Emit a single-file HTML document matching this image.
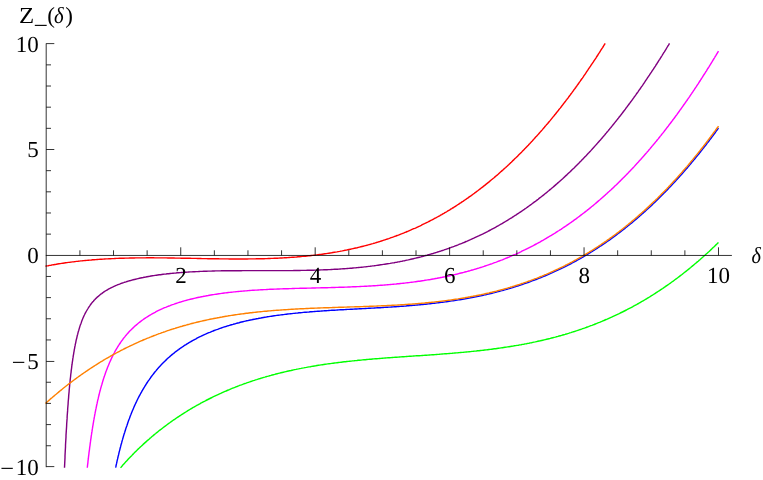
<!DOCTYPE html>
<html><head><meta charset="utf-8"><title>Z_(delta)</title>
<style>html,body{margin:0;padding:0;background:#fff}svg{display:block}text{font-family:"Liberation Serif",serif;font-size:23px;fill:#000}</style></head>
<body><svg width="763" height="480" viewBox="0 0 763 480">
<rect width="763" height="480" fill="#fff"/>
<g fill="none" stroke-width="1.42" stroke-linejoin="round" stroke-linecap="butt">
<path d="M115.6 467.7 L115.9 466.5 L116.2 464.9 L116.6 463.4 L116.9 461.9 L117.2 460.4 L117.6 458.9 L117.9 457.5 L118.2 456.1 L118.6 454.7 L118.9 453.3 L119.2 451.9 L119.6 450.6 L119.9 449.3 L120.2 448.0 L120.6 446.7 L120.9 445.4 L121.2 444.2 L121.6 443.0 L121.9 441.7 L122.2 440.6 L122.6 439.4 L123.0 437.9 L123.4 436.5 L123.8 435.1 L124.2 433.7 L124.7 432.4 L125.1 431.0 L125.5 429.7 L125.9 428.4 L126.3 427.2 L126.8 425.9 L127.2 424.7 L127.6 423.5 L128.0 422.3 L128.4 421.1 L128.8 420.0 L129.3 418.8 L129.7 417.7 L130.1 416.6 L130.5 415.5 L131.0 414.3 L131.5 413.0 L132.0 411.8 L132.5 410.6 L133.0 409.4 L133.5 408.2 L134.0 407.0 L134.5 405.9 L135.0 404.8 L135.5 403.7 L136.0 402.6 L136.5 401.6 L137.0 400.5 L137.5 399.5 L138.0 398.5 L138.6 397.3 L139.2 396.2 L139.8 395.1 L140.4 394.0 L141.0 392.9 L141.6 391.9 L142.1 390.8 L142.7 389.8 L143.3 388.8 L143.9 387.8 L144.5 386.9 L145.1 385.9 L145.7 385.0 L146.2 384.1 L146.9 383.0 L147.6 382.0 L148.2 381.0 L148.9 380.1 L149.6 379.1 L150.3 378.2 L150.9 377.2 L151.6 376.3 L152.3 375.4 L152.9 374.6 L153.6 373.7 L154.3 372.8 L154.9 372.0 L155.7 371.1 L156.4 370.2 L157.2 369.3 L157.9 368.4 L158.7 367.6 L159.4 366.7 L160.2 365.9 L161.0 365.1 L161.7 364.3 L162.5 363.5 L163.2 362.8 L164.0 362.0 L164.8 361.2 L165.6 360.4 L166.5 359.6 L167.3 358.8 L168.1 358.0 L169.0 357.3 L169.8 356.6 L170.7 355.8 L171.5 355.1 L172.3 354.4 L173.2 353.7 L174.0 353.1 L174.9 352.3 L175.8 351.6 L176.8 350.9 L177.7 350.2 L178.6 349.6 L179.5 348.9 L180.4 348.2 L181.4 347.6 L182.3 347.0 L183.2 346.4 L184.1 345.7 L185.0 345.1 L186.0 344.6 L187.0 343.9 L188.0 343.3 L189.0 342.7 L190.0 342.1 L191.0 341.5 L192.0 341.0 L193.0 340.4 L194.0 339.8 L195.0 339.3 L196.0 338.8 L197.0 338.2 L198.0 337.7 L199.0 337.2 L200.1 336.7 L201.2 336.2 L202.3 335.6 L203.3 335.1 L204.4 334.6 L205.5 334.2 L206.6 333.7 L207.7 333.2 L208.8 332.7 L209.9 332.3 L211.0 331.8 L212.0 331.4 L213.1 331.0 L214.2 330.5 L215.3 330.1 L216.5 329.7 L217.6 329.3 L218.8 328.8 L220.0 328.4 L221.2 328.0 L222.3 327.6 L223.5 327.2 L224.7 326.8 L225.8 326.5 L227.0 326.1 L228.2 325.7 L229.4 325.4 L230.5 325.0 L231.7 324.7 L232.9 324.4 L234.1 324.0 L235.4 323.7 L236.6 323.3 L237.9 323.0 L239.1 322.7 L240.4 322.3 L241.6 322.0 L242.9 321.7 L244.2 321.4 L245.4 321.1 L246.7 320.8 L247.9 320.6 L249.2 320.3 L250.4 320.0 L251.7 319.8 L252.9 319.5 L254.2 319.2 L255.4 319.0 L256.8 318.7 L258.1 318.5 L259.5 318.2 L260.8 318.0 L262.1 317.7 L263.5 317.5 L264.8 317.3 L266.1 317.1 L267.5 316.8 L268.8 316.6 L270.2 316.4 L271.5 316.2 L272.8 316.0 L274.2 315.8 L275.5 315.6 L276.8 315.4 L278.2 315.2 L279.5 315.1 L280.9 314.9 L282.2 314.7 L283.5 314.6 L284.9 314.4 L286.3 314.2 L287.7 314.0 L289.1 313.9 L290.6 313.7 L292.0 313.6 L293.4 313.4 L294.8 313.3 L296.2 313.1 L297.7 313.0 L299.1 312.8 L300.5 312.7 L301.9 312.6 L303.3 312.4 L304.8 312.3 L306.2 312.2 L307.6 312.1 L309.0 312.0 L310.5 311.8 L311.9 311.7 L313.3 311.6 L314.7 311.5 L316.1 311.4 L317.6 311.3 L319.0 311.2 L320.4 311.1 L321.8 311.0 L323.3 310.9 L324.7 310.8 L326.1 310.7 L327.5 310.6 L328.9 310.5 L330.4 310.4 L331.8 310.3 L333.2 310.3 L334.6 310.2 L336.0 310.1 L337.5 310.0 L338.9 309.9 L340.3 309.8 L341.7 309.8 L343.2 309.7 L344.6 309.6 L346.1 309.5 L347.6 309.4 L349.1 309.4 L350.6 309.3 L352.1 309.2 L353.6 309.1 L355.1 309.0 L356.6 309.0 L358.1 308.9 L359.6 308.8 L361.1 308.7 L362.6 308.6 L364.1 308.6 L365.6 308.5 L367.1 308.4 L368.7 308.3 L370.2 308.2 L371.7 308.1 L373.2 308.1 L374.6 308.0 L376.0 307.9 L377.4 307.8 L378.9 307.7 L380.3 307.7 L381.7 307.6 L383.1 307.5 L384.5 307.4 L386.0 307.3 L387.4 307.2 L388.8 307.1 L390.2 307.1 L391.6 307.0 L393.1 306.9 L394.5 306.8 L395.9 306.7 L397.3 306.6 L398.8 306.5 L400.2 306.4 L401.6 306.3 L403.0 306.2 L404.4 306.1 L405.9 306.0 L407.3 305.8 L408.7 305.7 L410.1 305.6 L411.5 305.5 L413.0 305.4 L414.4 305.2 L415.8 305.1 L417.2 305.0 L418.7 304.9 L420.1 304.7 L421.5 304.6 L422.9 304.5 L424.3 304.3 L425.8 304.2 L427.2 304.0 L428.6 303.9 L430.0 303.7 L431.4 303.6 L432.9 303.4 L434.3 303.2 L435.7 303.1 L437.1 302.9 L438.5 302.7 L439.8 302.6 L441.1 302.4 L442.5 302.2 L443.8 302.1 L445.2 301.9 L446.5 301.7 L447.8 301.5 L449.2 301.3 L450.5 301.1 L451.9 300.9 L453.2 300.7 L454.5 300.5 L455.9 300.3 L457.2 300.1 L458.5 299.9 L459.9 299.7 L461.2 299.5 L462.6 299.2 L463.9 299.0 L465.2 298.8 L466.6 298.5 L467.9 298.3 L469.2 298.1 L470.6 297.8 L471.9 297.6 L473.3 297.3 L474.5 297.0 L475.8 296.8 L477.0 296.5 L478.3 296.3 L479.5 296.0 L480.8 295.8 L482.0 295.5 L483.3 295.2 L484.5 294.9 L485.8 294.7 L487.1 294.4 L488.3 294.1 L489.6 293.8 L490.8 293.5 L492.1 293.2 L493.3 292.9 L494.6 292.6 L495.8 292.2 L497.1 291.9 L498.3 291.6 L499.6 291.3 L500.8 290.9 L502.1 290.6 L503.4 290.2 L504.6 289.9 L505.8 289.6 L507.0 289.2 L508.1 288.9 L509.3 288.6 L510.5 288.2 L511.6 287.9 L512.8 287.5 L514.0 287.1 L515.1 286.8 L516.3 286.4 L517.5 286.0 L518.7 285.7 L519.8 285.3 L521.0 284.9 L522.2 284.5 L523.3 284.1 L524.5 283.7 L525.7 283.3 L526.9 282.9 L528.0 282.5 L529.2 282.0 L530.4 281.6 L531.5 281.2 L532.7 280.7 L533.9 280.3 L535.0 279.9 L536.1 279.5 L537.1 279.1 L538.2 278.6 L539.3 278.2 L540.4 277.8 L541.5 277.3 L542.6 276.9 L543.7 276.4 L544.7 276.0 L545.8 275.5 L546.9 275.1 L548.0 274.6 L549.1 274.1 L550.2 273.6 L551.3 273.2 L552.4 272.7 L553.4 272.2 L554.5 271.7 L555.6 271.2 L556.7 270.7 L557.8 270.2 L558.9 269.7 L560.0 269.2 L561.1 268.6 L562.1 268.1 L563.2 267.6 L564.2 267.1 L565.2 266.6 L566.2 266.1 L567.2 265.6 L568.2 265.0 L569.2 264.5 L570.3 264.0 L571.3 263.5 L572.3 262.9 L573.3 262.4 L574.3 261.9 L575.3 261.3 L576.3 260.8 L577.3 260.2 L578.3 259.7 L579.3 259.1 L580.3 258.5 L581.3 258.0 L582.3 257.4 L583.3 256.8 L584.3 256.2 L585.3 255.6 L586.3 255.0 L587.3 254.4 L588.3 253.8 L589.3 253.2 L590.3 252.6 L591.3 252.0 L592.3 251.4 L593.3 250.7 L594.3 250.1 L595.3 249.5 L596.2 248.9 L597.1 248.3 L598.0 247.7 L598.9 247.1 L599.8 246.5 L600.8 245.9 L601.7 245.3 L602.6 244.7 L603.5 244.1 L604.4 243.4 L605.4 242.8 L606.3 242.2 L607.2 241.5 L608.1 240.9 L609.0 240.3 L610.0 239.6 L610.9 238.9 L611.8 238.3 L612.7 237.6 L613.6 236.9 L614.6 236.3 L615.5 235.6 L616.4 234.9 L617.3 234.2 L618.2 233.5 L619.2 232.8 L620.1 232.1 L621.0 231.4 L621.9 230.7 L622.8 230.0 L623.8 229.3 L624.7 228.6 L625.6 227.8 L626.4 227.2 L627.3 226.5 L628.1 225.8 L628.9 225.2 L629.8 224.5 L630.6 223.8 L631.5 223.1 L632.3 222.4 L633.1 221.7 L634.0 221.0 L634.8 220.3 L635.6 219.6 L636.5 218.9 L637.3 218.2 L638.1 217.5 L639.0 216.7 L639.8 216.0 L640.7 215.3 L641.5 214.5 L642.3 213.8 L643.2 213.1 L644.0 212.3 L644.8 211.6 L645.7 210.8 L646.5 210.0 L647.3 209.3 L648.2 208.5 L649.0 207.7 L649.9 207.0 L650.7 206.2 L651.5 205.4 L652.4 204.6 L653.2 203.8 L654.0 203.0 L654.9 202.2 L655.7 201.4 L656.5 200.6 L657.4 199.8 L658.2 199.0 L659.0 198.1 L659.9 197.3 L660.6 196.6 L661.4 195.8 L662.1 195.1 L662.9 194.3 L663.6 193.5 L664.4 192.8 L665.2 192.0 L665.9 191.2 L666.7 190.5 L667.4 189.7 L668.2 188.9 L668.9 188.1 L669.7 187.3 L670.4 186.5 L671.2 185.7 L671.9 184.9 L672.7 184.1 L673.4 183.3 L674.2 182.5 L674.9 181.7 L675.7 180.9 L676.4 180.0 L677.2 179.2 L677.9 178.4 L678.7 177.6 L679.5 176.7 L680.2 175.9 L681.0 175.0 L681.7 174.2 L682.5 173.3 L683.2 172.5 L684.0 171.6 L684.7 170.8 L685.5 169.9 L686.2 169.0 L687.0 168.2 L687.7 167.3 L688.5 166.4 L689.2 165.5 L690.0 164.6 L690.7 163.7 L691.5 162.8 L692.2 161.9 L693.0 161.0 L693.7 160.1 L694.5 159.2 L695.3 158.3 L696.0 157.4 L696.8 156.4 L697.5 155.5 L698.3 154.6 L699.0 153.7 L699.7 152.8 L700.4 152.0 L701.0 151.1 L701.7 150.3 L702.4 149.4 L703.0 148.6 L703.7 147.7 L704.4 146.9 L705.0 146.0 L705.7 145.2 L706.4 144.3 L707.0 143.4 L707.7 142.6 L708.4 141.7 L709.1 140.8 L709.7 139.9 L710.4 139.0 L711.1 138.2 L711.7 137.3 L712.4 136.4 L713.1 135.5 L713.7 134.6 L714.4 133.7 L715.1 132.8 L715.7 131.9 L716.4 130.9 L717.1 130.0 L717.7 129.1 L718.4 128.2 L718.5 128.1" stroke="#0000ff"/>
<path d="M45.5 266.2 L46.8 265.9 L48.2 265.7 L49.5 265.4 L50.9 265.2 L52.2 264.9 L53.6 264.7 L54.9 264.5 L56.3 264.3 L57.6 264.0 L59.0 263.8 L60.3 263.6 L61.6 263.4 L63.0 263.2 L64.3 263.0 L65.7 262.8 L67.0 262.6 L68.4 262.4 L69.7 262.3 L71.1 262.1 L72.4 261.9 L73.8 261.8 L75.1 261.6 L76.5 261.4 L77.9 261.3 L79.4 261.1 L80.9 260.9 L82.4 260.8 L83.9 260.6 L85.3 260.5 L86.8 260.4 L88.3 260.2 L89.8 260.1 L91.3 260.0 L92.7 259.8 L94.2 259.7 L95.7 259.6 L97.2 259.5 L98.7 259.4 L100.2 259.3 L101.6 259.2 L103.1 259.1 L104.6 259.0 L106.1 258.9 L107.6 258.9 L109.0 258.8 L110.5 258.7 L112.0 258.6 L113.5 258.6 L115.0 258.5 L116.4 258.4 L117.9 258.4 L119.4 258.3 L120.9 258.3 L122.4 258.2 L123.8 258.2 L125.3 258.1 L126.8 258.1 L128.3 258.1 L129.8 258.0 L131.3 258.0 L132.7 258.0 L134.2 258.0 L135.7 257.9 L137.2 257.9 L138.8 257.9 L140.4 257.9 L142.0 257.9 L143.6 257.9 L145.3 257.9 L146.9 257.8 L148.5 257.8 L150.1 257.8 L151.7 257.8 L153.3 257.8 L154.9 257.9 L156.6 257.9 L158.2 257.9 L159.8 257.9 L161.4 257.9 L163.0 257.9 L164.6 257.9 L166.3 257.9 L167.9 258.0 L169.5 258.0 L171.0 258.0 L172.4 258.0 L173.9 258.0 L175.4 258.1 L176.9 258.1 L178.4 258.1 L179.9 258.1 L181.3 258.2 L182.8 258.2 L184.3 258.2 L185.8 258.2 L187.3 258.3 L188.7 258.3 L190.2 258.3 L191.7 258.4 L193.2 258.4 L194.7 258.4 L196.1 258.4 L197.6 258.5 L199.1 258.5 L200.6 258.5 L202.1 258.6 L203.5 258.6 L205.0 258.6 L206.5 258.6 L208.0 258.7 L209.5 258.7 L211.0 258.7 L212.4 258.7 L213.9 258.8 L215.4 258.8 L216.9 258.8 L218.4 258.8 L219.8 258.9 L221.5 258.9 L223.1 258.9 L224.7 258.9 L226.3 258.9 L227.9 258.9 L229.5 259.0 L231.1 259.0 L232.8 259.0 L234.4 259.0 L236.0 259.0 L237.6 259.0 L239.2 259.0 L240.8 259.0 L242.5 259.0 L244.1 259.0 L245.7 259.0 L247.3 259.0 L248.9 258.9 L250.5 258.9 L252.1 258.9 L253.6 258.9 L255.1 258.9 L256.6 258.8 L258.1 258.8 L259.6 258.8 L261.0 258.7 L262.5 258.7 L264.0 258.7 L265.5 258.6 L267.0 258.6 L268.4 258.5 L269.9 258.5 L271.4 258.4 L272.9 258.4 L274.4 258.3 L275.8 258.2 L277.3 258.2 L278.8 258.1 L280.3 258.0 L281.8 258.0 L283.2 257.9 L284.7 257.8 L286.2 257.7 L287.7 257.6 L289.2 257.5 L290.7 257.4 L292.1 257.3 L293.6 257.2 L295.1 257.1 L296.6 257.0 L298.1 256.8 L299.5 256.7 L301.0 256.6 L302.5 256.4 L304.0 256.3 L305.5 256.2 L306.9 256.0 L308.4 255.8 L309.9 255.7 L311.4 255.5 L312.7 255.4 L314.1 255.2 L315.4 255.1 L316.8 254.9 L318.1 254.7 L319.5 254.5 L320.8 254.4 L322.2 254.2 L323.5 254.0 L324.8 253.8 L326.2 253.6 L327.5 253.4 L328.9 253.2 L330.2 253.0 L331.6 252.8 L332.9 252.5 L334.3 252.3 L335.6 252.1 L337.0 251.9 L338.3 251.6 L339.7 251.4 L341.0 251.1 L342.3 250.9 L343.7 250.6 L345.0 250.3 L346.4 250.1 L347.7 249.8 L349.1 249.5 L350.4 249.2 L351.8 248.9 L353.1 248.6 L354.5 248.3 L355.8 248.0 L357.2 247.7 L358.4 247.4 L359.6 247.1 L360.8 246.8 L362.0 246.5 L363.2 246.2 L364.4 245.9 L365.6 245.6 L366.9 245.3 L368.1 244.9 L369.3 244.6 L370.5 244.3 L371.7 243.9 L372.9 243.6 L374.1 243.2 L375.3 242.9 L376.5 242.5 L377.8 242.1 L379.0 241.8 L380.2 241.4 L381.4 241.0 L382.6 240.6 L383.8 240.2 L385.0 239.8 L386.2 239.4 L387.4 239.0 L388.7 238.6 L389.9 238.2 L391.1 237.7 L392.3 237.3 L393.5 236.9 L394.7 236.4 L395.9 236.0 L397.1 235.5 L398.4 235.1 L399.6 234.6 L400.8 234.1 L401.9 233.7 L402.9 233.3 L404.0 232.9 L405.1 232.4 L406.2 232.0 L407.2 231.5 L408.3 231.1 L409.4 230.6 L410.5 230.2 L411.5 229.7 L412.6 229.2 L413.7 228.7 L414.8 228.3 L415.9 227.8 L416.9 227.3 L418.0 226.8 L419.1 226.3 L420.2 225.8 L421.2 225.3 L422.3 224.7 L423.4 224.2 L424.5 223.7 L425.5 223.2 L426.6 222.6 L427.7 222.1 L428.8 221.5 L429.9 221.0 L430.9 220.4 L432.0 219.9 L433.1 219.3 L434.2 218.7 L435.2 218.1 L436.3 217.6 L437.4 217.0 L438.5 216.4 L439.6 215.8 L440.6 215.2 L441.7 214.6 L442.8 213.9 L443.9 213.3 L444.9 212.7 L446.0 212.1 L447.0 211.5 L447.9 210.9 L448.8 210.4 L449.8 209.8 L450.7 209.2 L451.7 208.6 L452.6 208.0 L453.6 207.5 L454.5 206.9 L455.4 206.3 L456.4 205.7 L457.3 205.0 L458.3 204.4 L459.2 203.8 L460.1 203.2 L461.1 202.6 L462.0 201.9 L463.0 201.3 L463.9 200.7 L464.9 200.0 L465.8 199.4 L466.7 198.7 L467.7 198.1 L468.6 197.4 L469.6 196.7 L470.5 196.1 L471.5 195.4 L472.4 194.7 L473.3 194.0 L474.3 193.3 L475.2 192.6 L476.2 191.9 L477.1 191.2 L478.1 190.5 L479.0 189.8 L479.9 189.1 L480.9 188.3 L481.8 187.6 L482.8 186.9 L483.7 186.1 L484.7 185.4 L485.6 184.6 L486.5 183.9 L487.5 183.1 L488.4 182.4 L489.4 181.6 L490.3 180.8 L491.2 180.0 L492.2 179.2 L493.1 178.5 L494.1 177.7 L495.0 176.9 L496.0 176.0 L496.8 175.4 L497.6 174.7 L498.4 174.0 L499.2 173.2 L500.0 172.5 L500.8 171.8 L501.6 171.1 L502.4 170.4 L503.2 169.7 L504.0 168.9 L504.8 168.2 L505.7 167.5 L506.5 166.7 L507.3 166.0 L508.1 165.2 L508.9 164.5 L509.7 163.7 L510.5 162.9 L511.3 162.2 L512.1 161.4 L512.9 160.6 L513.7 159.9 L514.5 159.1 L515.3 158.3 L516.2 157.5 L517.0 156.7 L517.8 155.9 L518.6 155.1 L519.4 154.3 L520.2 153.5 L521.0 152.7 L521.8 151.9 L522.6 151.0 L523.4 150.2 L524.2 149.4 L525.0 148.6 L525.8 147.7 L526.7 146.9 L527.5 146.0 L528.3 145.2 L529.1 144.3 L529.9 143.5 L530.7 142.6 L531.5 141.7 L532.3 140.9 L533.1 140.0 L533.9 139.1 L534.7 138.2 L535.5 137.3 L536.3 136.4 L537.2 135.5 L538.0 134.6 L538.8 133.7 L539.6 132.8 L540.4 131.9 L541.2 131.0 L542.0 130.1 L542.8 129.1 L543.6 128.2 L544.4 127.3 L545.2 126.3 L546.0 125.4 L546.8 124.4 L547.7 123.5 L548.5 122.5 L549.3 121.5 L550.1 120.6 L550.9 119.6 L551.7 118.6 L552.5 117.6 L553.3 116.6 L554.1 115.7 L554.8 114.8 L555.5 114.0 L556.1 113.2 L556.8 112.3 L557.5 111.5 L558.2 110.6 L558.8 109.8 L559.5 108.9 L560.2 108.1 L560.9 107.2 L561.5 106.4 L562.2 105.5 L562.9 104.6 L563.5 103.8 L564.2 102.9 L564.9 102.0 L565.6 101.1 L566.2 100.2 L566.9 99.4 L567.6 98.5 L568.3 97.6 L568.9 96.7 L569.6 95.8 L570.3 94.9 L570.9 94.0 L571.6 93.1 L572.3 92.1 L573.0 91.2 L573.6 90.3 L574.3 89.4 L575.0 88.5 L575.7 87.5 L576.3 86.6 L577.0 85.7 L577.7 84.7 L578.4 83.8 L579.0 82.8 L579.7 81.9 L580.4 80.9 L581.0 80.0 L581.7 79.0 L582.4 78.1 L583.1 77.1 L583.7 76.1 L584.4 75.1 L585.1 74.2 L585.8 73.2 L586.4 72.2 L587.1 71.2 L587.8 70.2 L588.4 69.2 L589.1 68.2 L589.8 67.2 L590.5 66.2 L591.1 65.2 L591.8 64.2 L592.5 63.2 L593.2 62.2 L593.8 61.2 L594.5 60.1 L595.2 59.1 L595.9 58.1 L596.5 57.0 L597.2 56.0 L597.9 55.0 L598.5 53.9 L599.2 52.9 L599.9 51.8 L600.6 50.7 L601.2 49.7 L601.9 48.6 L602.6 47.6 L603.3 46.5 L603.9 45.4 L604.6 44.3 L605.2 43.4" stroke="#ff0000"/>
<path d="M64.5 467.7 L64.6 465.6 L64.7 463.6 L64.8 461.6 L64.9 459.7 L65.0 457.8 L65.0 455.9 L65.1 454.0 L65.2 452.2 L65.3 450.4 L65.4 448.7 L65.5 446.9 L65.5 445.2 L65.6 443.5 L65.7 441.8 L65.8 440.2 L65.9 438.6 L66.0 437.0 L66.0 435.4 L66.1 433.9 L66.2 432.4 L66.3 430.9 L66.4 429.4 L66.5 428.0 L66.6 426.5 L66.7 423.7 L66.9 421.0 L67.1 418.4 L67.2 415.8 L67.4 413.3 L67.6 410.9 L67.7 408.5 L67.9 406.2 L68.1 404.0 L68.2 401.8 L68.4 399.7 L68.6 397.6 L68.7 395.6 L68.9 393.6 L69.1 391.7 L69.2 389.8 L69.4 388.0 L69.6 386.2 L69.7 384.5 L69.9 382.8 L70.1 381.2 L70.2 379.6 L70.4 378.0 L70.6 376.5 L70.7 375.0 L70.9 373.5 L71.1 372.1 L71.2 370.7 L71.4 369.3 L71.6 368.0 L71.8 366.0 L72.1 364.2 L72.3 362.3 L72.6 360.6 L72.8 358.9 L73.1 357.2 L73.3 355.6 L73.6 354.1 L73.8 352.6 L74.1 351.1 L74.3 349.7 L74.6 348.3 L74.8 347.0 L75.1 345.7 L75.3 344.4 L75.7 342.8 L76.0 341.2 L76.3 339.7 L76.7 338.3 L77.0 336.8 L77.3 335.5 L77.7 334.2 L78.0 332.9 L78.3 331.7 L78.7 330.5 L79.1 329.1 L79.5 327.7 L79.9 326.4 L80.3 325.1 L80.8 323.9 L81.2 322.8 L81.6 321.6 L82.0 320.5 L82.5 319.3 L83.0 318.1 L83.5 316.9 L84.0 315.8 L84.5 314.8 L85.0 313.7 L85.6 312.6 L86.2 311.5 L86.8 310.5 L87.4 309.5 L88.0 308.5 L88.5 307.6 L89.2 306.6 L89.9 305.6 L90.5 304.7 L91.2 303.8 L91.9 302.9 L92.6 302.0 L93.4 301.2 L94.1 300.3 L94.9 299.5 L95.6 298.7 L96.5 297.9 L97.3 297.1 L98.2 296.4 L99.0 295.7 L99.8 295.0 L100.7 294.2 L101.7 293.6 L102.6 292.9 L103.5 292.2 L104.4 291.6 L105.3 291.0 L106.4 290.4 L107.4 289.8 L108.4 289.2 L109.4 288.7 L110.4 288.2 L111.4 287.6 L112.5 287.1 L113.5 286.6 L114.6 286.1 L115.7 285.6 L116.8 285.2 L117.9 284.7 L119.0 284.3 L120.1 283.9 L121.2 283.4 L122.4 283.0 L123.6 282.6 L124.7 282.2 L125.9 281.9 L127.1 281.5 L128.3 281.1 L129.4 280.8 L130.6 280.5 L131.9 280.1 L133.1 279.8 L134.4 279.5 L135.6 279.2 L136.9 278.9 L138.1 278.6 L139.4 278.3 L140.6 278.0 L141.9 277.7 L143.1 277.5 L144.4 277.2 L145.7 277.0 L147.1 276.7 L148.4 276.5 L149.7 276.3 L151.1 276.0 L152.4 275.8 L153.8 275.6 L155.1 275.4 L156.4 275.2 L157.8 275.0 L159.1 274.8 L160.5 274.7 L161.8 274.5 L163.1 274.3 L164.5 274.1 L166.0 274.0 L167.4 273.8 L168.8 273.7 L170.2 273.5 L171.7 273.4 L173.1 273.2 L174.5 273.1 L175.9 273.0 L177.3 272.8 L178.8 272.7 L180.2 272.6 L181.6 272.5 L183.0 272.4 L184.4 272.3 L185.9 272.2 L187.3 272.1 L188.7 272.0 L190.1 271.9 L191.6 271.9 L193.1 271.8 L194.6 271.7 L196.1 271.6 L197.6 271.6 L199.1 271.5 L200.6 271.4 L202.1 271.4 L203.6 271.3 L205.1 271.2 L206.6 271.2 L208.1 271.1 L209.6 271.1 L211.1 271.1 L212.6 271.0 L214.1 271.0 L215.6 270.9 L217.1 270.9 L218.6 270.9 L220.2 270.9 L221.7 270.8 L223.2 270.8 L224.7 270.8 L226.2 270.8 L227.7 270.7 L229.2 270.7 L230.7 270.7 L232.2 270.7 L233.7 270.7 L235.2 270.7 L236.7 270.7 L238.2 270.7 L239.7 270.7 L241.2 270.7 L242.7 270.6 L244.2 270.6 L245.7 270.6 L247.2 270.6 L248.7 270.6 L250.3 270.6 L251.8 270.6 L253.3 270.6 L254.8 270.6 L256.3 270.6 L257.8 270.6 L259.3 270.6 L260.8 270.6 L262.3 270.6 L263.8 270.6 L265.3 270.6 L266.8 270.6 L268.3 270.6 L269.8 270.6 L271.3 270.6 L272.8 270.6 L274.3 270.6 L275.8 270.6 L277.3 270.6 L278.9 270.6 L280.4 270.6 L281.9 270.6 L283.4 270.6 L284.9 270.6 L286.4 270.6 L287.9 270.6 L289.4 270.6 L290.9 270.6 L292.4 270.6 L293.9 270.5 L295.4 270.5 L296.9 270.5 L298.4 270.5 L299.9 270.5 L301.4 270.4 L302.9 270.4 L304.4 270.4 L305.9 270.4 L307.4 270.3 L309.0 270.3 L310.5 270.3 L312.0 270.2 L313.5 270.2 L315.0 270.1 L316.5 270.1 L318.0 270.0 L319.5 270.0 L321.0 269.9 L322.5 269.9 L324.0 269.8 L325.5 269.8 L327.0 269.7 L328.5 269.6 L330.0 269.6 L331.5 269.5 L333.0 269.4 L334.5 269.3 L336.0 269.2 L337.4 269.2 L338.8 269.1 L340.2 269.0 L341.6 268.9 L343.1 268.8 L344.5 268.7 L345.9 268.6 L347.3 268.5 L348.8 268.4 L350.2 268.3 L351.6 268.2 L353.0 268.0 L354.4 267.9 L355.9 267.8 L357.3 267.6 L358.7 267.5 L360.1 267.4 L361.5 267.2 L363.0 267.1 L364.4 266.9 L365.8 266.8 L367.2 266.6 L368.7 266.4 L370.1 266.3 L371.4 266.1 L372.8 265.9 L374.1 265.8 L375.4 265.6 L376.8 265.4 L378.1 265.2 L379.4 265.0 L380.8 264.8 L382.1 264.6 L383.5 264.4 L384.8 264.2 L386.1 264.0 L387.5 263.8 L388.8 263.6 L390.1 263.4 L391.5 263.1 L392.8 262.9 L394.2 262.7 L395.5 262.4 L396.8 262.2 L398.2 261.9 L399.5 261.7 L400.8 261.4 L402.0 261.2 L403.3 260.9 L404.5 260.7 L405.8 260.4 L407.0 260.1 L408.3 259.9 L409.5 259.6 L410.8 259.3 L412.0 259.0 L413.3 258.7 L414.6 258.4 L415.8 258.1 L417.1 257.8 L418.3 257.5 L419.6 257.2 L420.8 256.9 L422.1 256.5 L423.3 256.2 L424.6 255.9 L425.8 255.5 L427.1 255.2 L428.4 254.8 L429.5 254.5 L430.7 254.1 L431.9 253.8 L433.0 253.5 L434.2 253.1 L435.4 252.7 L436.5 252.4 L437.7 252.0 L438.9 251.6 L440.1 251.3 L441.2 250.9 L442.4 250.5 L443.6 250.1 L444.7 249.7 L445.9 249.3 L447.1 248.9 L448.3 248.5 L449.4 248.1 L450.6 247.7 L451.8 247.2 L452.9 246.8 L454.1 246.4 L455.3 245.9 L456.4 245.5 L457.5 245.1 L458.5 244.7 L459.6 244.2 L460.7 243.8 L461.8 243.4 L462.9 242.9 L464.0 242.5 L465.1 242.0 L466.1 241.5 L467.2 241.1 L468.3 240.6 L469.4 240.1 L470.5 239.7 L471.6 239.2 L472.7 238.7 L473.8 238.2 L474.8 237.7 L475.9 237.2 L477.0 236.7 L478.1 236.2 L479.2 235.7 L480.3 235.1 L481.4 234.6 L482.5 234.1 L483.5 233.6 L484.5 233.1 L485.5 232.6 L486.5 232.1 L487.5 231.6 L488.5 231.0 L489.5 230.5 L490.5 230.0 L491.5 229.4 L492.5 228.9 L493.5 228.4 L494.5 227.8 L495.5 227.3 L496.5 226.7 L497.5 226.1 L498.5 225.6 L499.5 225.0 L500.5 224.4 L501.5 223.9 L502.5 223.3 L503.5 222.7 L504.5 222.1 L505.5 221.5 L506.5 220.9 L507.5 220.3 L508.5 219.7 L509.5 219.0 L510.5 218.4 L511.6 217.8 L512.5 217.2 L513.4 216.6 L514.3 216.0 L515.2 215.4 L516.2 214.8 L517.1 214.2 L518.0 213.6 L518.9 213.0 L519.8 212.4 L520.7 211.8 L521.7 211.2 L522.6 210.5 L523.5 209.9 L524.4 209.3 L525.3 208.6 L526.3 208.0 L527.2 207.3 L528.1 206.7 L529.0 206.0 L529.9 205.3 L530.9 204.7 L531.8 204.0 L532.7 203.3 L533.6 202.6 L534.5 201.9 L535.5 201.3 L536.4 200.6 L537.3 199.9 L538.2 199.2 L539.1 198.4 L540.1 197.7 L541.0 197.0 L541.9 196.3 L542.8 195.6 L543.7 194.9 L544.5 194.2 L545.3 193.5 L546.2 192.9 L547.0 192.2 L547.8 191.5 L548.7 190.8 L549.5 190.1 L550.3 189.4 L551.2 188.7 L552.0 188.0 L552.9 187.3 L553.7 186.6 L554.5 185.9 L555.4 185.1 L556.2 184.4 L557.0 183.7 L557.9 182.9 L558.7 182.2 L559.5 181.5 L560.4 180.7 L561.2 180.0 L562.1 179.2 L562.9 178.5 L563.7 177.7 L564.6 176.9 L565.4 176.1 L566.2 175.4 L567.1 174.6 L567.9 173.8 L568.7 173.0 L569.6 172.2 L570.4 171.4 L571.3 170.6 L572.1 169.8 L572.9 169.0 L573.8 168.2 L574.6 167.4 L575.4 166.6 L576.3 165.7 L577.0 165.0 L577.8 164.2 L578.5 163.5 L579.3 162.7 L580.0 161.9 L580.8 161.2 L581.5 160.4 L582.3 159.6 L583.0 158.9 L583.8 158.1 L584.5 157.3 L585.3 156.5 L586.1 155.7 L586.8 154.9 L587.6 154.1 L588.3 153.3 L589.1 152.5 L589.8 151.7 L590.6 150.9 L591.3 150.1 L592.1 149.2 L592.8 148.4 L593.6 147.6 L594.3 146.8 L595.1 145.9 L595.8 145.1 L596.6 144.2 L597.3 143.4 L598.1 142.5 L598.8 141.7 L599.6 140.8 L600.4 140.0 L601.1 139.1 L601.9 138.2 L602.6 137.3 L603.4 136.5 L604.1 135.6 L604.9 134.7 L605.6 133.8 L606.4 132.9 L607.1 132.0 L607.9 131.1 L608.6 130.2 L609.4 129.3 L610.1 128.4 L610.9 127.5 L611.6 126.6 L612.4 125.6 L613.1 124.7 L613.9 123.8 L614.6 122.9 L615.2 122.1 L615.9 121.3 L616.6 120.4 L617.2 119.6 L617.9 118.7 L618.6 117.9 L619.2 117.0 L619.9 116.2 L620.6 115.3 L621.3 114.5 L621.9 113.6 L622.6 112.7 L623.3 111.8 L623.9 111.0 L624.6 110.1 L625.3 109.2 L625.9 108.3 L626.6 107.4 L627.3 106.5 L627.9 105.6 L628.6 104.7 L629.3 103.8 L630.0 102.9 L630.6 102.0 L631.3 101.1 L632.0 100.2 L632.6 99.3 L633.3 98.4 L634.0 97.4 L634.6 96.5 L635.3 95.6 L636.0 94.6 L636.6 93.7 L637.3 92.8 L638.0 91.8 L638.6 90.9 L639.3 89.9 L640.0 89.0 L640.7 88.0 L641.3 87.0 L642.0 86.1 L642.7 85.1 L643.3 84.1 L644.0 83.2 L644.7 82.2 L645.3 81.2 L646.0 80.2 L646.7 79.2 L647.3 78.2 L648.0 77.2 L648.7 76.2 L649.4 75.2 L650.0 74.2 L650.7 73.2 L651.4 72.2 L652.0 71.2 L652.7 70.2 L653.4 69.2 L654.0 68.1 L654.7 67.1 L655.4 66.1 L656.0 65.0 L656.7 64.0 L657.4 62.9 L658.0 62.0 L658.5 61.1 L659.1 60.2 L659.7 59.3 L660.3 58.3 L660.9 57.4 L661.5 56.5 L662.1 55.5 L662.6 54.6 L663.2 53.7 L663.8 52.7 L664.4 51.8 L665.0 50.8 L665.6 49.9 L666.2 48.9 L666.7 48.0 L667.3 47.0 L667.9 46.0 L668.5 45.1 L669.1 44.1 L669.5 43.4" stroke="#800080"/>
<path d="M87.3 467.7 L87.5 465.7 L87.7 464.1 L87.9 462.6 L88.0 461.2 L88.2 459.7 L88.4 458.2 L88.5 456.8 L88.7 455.4 L88.9 454.0 L89.0 452.7 L89.2 451.3 L89.5 449.3 L89.7 447.4 L90.0 445.5 L90.2 443.6 L90.5 441.7 L90.7 439.9 L91.0 438.1 L91.2 436.4 L91.5 434.7 L91.7 433.0 L92.0 431.4 L92.2 429.8 L92.5 428.2 L92.7 426.6 L93.0 425.1 L93.2 423.6 L93.5 422.1 L93.7 420.6 L94.0 419.2 L94.2 417.8 L94.5 416.4 L94.7 415.1 L95.0 413.7 L95.2 412.4 L95.5 411.1 L95.7 409.9 L96.1 408.2 L96.4 406.6 L96.7 405.0 L97.1 403.4 L97.4 401.9 L97.7 400.4 L98.1 399.0 L98.4 397.6 L98.7 396.2 L99.1 394.8 L99.4 393.4 L99.7 392.1 L100.1 390.8 L100.4 389.6 L100.7 388.3 L101.1 387.1 L101.4 385.9 L101.8 384.7 L102.2 383.3 L102.6 381.9 L103.0 380.5 L103.4 379.2 L103.8 377.9 L104.3 376.6 L104.7 375.4 L105.1 374.2 L105.5 373.0 L105.9 371.8 L106.4 370.6 L106.8 369.5 L107.2 368.4 L107.7 367.1 L108.2 365.9 L108.7 364.7 L109.2 363.5 L109.7 362.3 L110.2 361.2 L110.7 360.1 L111.2 359.0 L111.7 357.9 L112.2 356.9 L112.7 355.9 L113.3 354.7 L113.9 353.6 L114.5 352.5 L115.0 351.4 L115.6 350.4 L116.2 349.3 L116.8 348.3 L117.4 347.4 L118.0 346.4 L118.6 345.5 L119.2 344.5 L119.9 343.5 L120.6 342.5 L121.2 341.5 L121.9 340.6 L122.6 339.7 L123.2 338.8 L123.9 337.9 L124.6 337.1 L125.3 336.1 L126.1 335.2 L126.8 334.4 L127.6 333.5 L128.3 332.7 L129.1 331.8 L129.8 331.0 L130.6 330.3 L131.4 329.5 L132.2 328.7 L133.0 327.9 L133.9 327.1 L134.7 326.3 L135.5 325.6 L136.4 324.9 L137.2 324.2 L138.0 323.5 L138.9 322.8 L139.8 322.1 L140.7 321.4 L141.6 320.7 L142.6 320.0 L143.5 319.3 L144.4 318.7 L145.3 318.1 L146.2 317.5 L147.2 316.9 L148.1 316.3 L149.1 315.7 L150.1 315.1 L151.1 314.5 L152.1 313.9 L153.1 313.3 L154.1 312.8 L155.1 312.3 L156.1 311.7 L157.1 311.2 L158.1 310.7 L159.2 310.2 L160.3 309.7 L161.4 309.2 L162.5 308.7 L163.5 308.2 L164.6 307.7 L165.7 307.3 L166.8 306.8 L167.9 306.4 L169.0 306.0 L170.1 305.6 L171.2 305.1 L172.4 304.7 L173.6 304.3 L174.7 303.9 L175.9 303.5 L177.1 303.1 L178.3 302.7 L179.4 302.3 L180.6 302.0 L181.8 301.6 L182.9 301.3 L184.1 300.9 L185.3 300.6 L186.5 300.3 L187.8 299.9 L189.0 299.6 L190.3 299.3 L191.6 299.0 L192.8 298.7 L194.1 298.4 L195.3 298.1 L196.6 297.8 L197.8 297.5 L199.1 297.2 L200.3 297.0 L201.6 296.7 L202.8 296.5 L204.2 296.2 L205.5 296.0 L206.9 295.7 L208.2 295.5 L209.5 295.2 L210.9 295.0 L212.2 294.8 L213.5 294.6 L214.9 294.4 L216.2 294.2 L217.6 294.0 L218.9 293.8 L220.2 293.6 L221.6 293.4 L222.9 293.2 L224.2 293.0 L225.6 292.9 L226.9 292.7 L228.3 292.5 L229.8 292.4 L231.2 292.2 L232.6 292.1 L234.0 291.9 L235.5 291.8 L236.9 291.6 L238.3 291.5 L239.7 291.4 L241.1 291.2 L242.6 291.1 L244.0 291.0 L245.4 290.9 L246.8 290.8 L248.2 290.6 L249.7 290.5 L251.1 290.4 L252.5 290.3 L253.9 290.2 L255.4 290.1 L256.8 290.1 L258.2 290.0 L259.6 289.9 L261.0 289.8 L262.5 289.7 L264.0 289.6 L265.5 289.6 L267.0 289.5 L268.5 289.4 L270.0 289.3 L271.5 289.3 L273.0 289.2 L274.5 289.1 L276.0 289.1 L277.5 289.0 L279.0 289.0 L280.5 288.9 L282.0 288.9 L283.5 288.8 L285.0 288.8 L286.5 288.7 L288.0 288.7 L289.6 288.6 L291.1 288.6 L292.6 288.5 L294.1 288.5 L295.6 288.4 L297.1 288.4 L298.6 288.4 L300.1 288.3 L301.6 288.3 L303.1 288.2 L304.6 288.2 L306.1 288.2 L307.6 288.1 L309.1 288.1 L310.6 288.1 L312.1 288.0 L313.6 288.0 L315.1 288.0 L316.6 287.9 L318.1 287.9 L319.7 287.9 L321.2 287.8 L322.7 287.8 L324.2 287.7 L325.7 287.7 L327.2 287.7 L328.7 287.6 L330.2 287.6 L331.7 287.5 L333.2 287.5 L334.7 287.5 L336.2 287.4 L337.7 287.4 L339.2 287.3 L340.7 287.3 L342.2 287.2 L343.7 287.2 L345.2 287.1 L346.7 287.1 L348.3 287.0 L349.8 287.0 L351.3 286.9 L352.8 286.8 L354.3 286.8 L355.8 286.7 L357.3 286.6 L358.8 286.6 L360.3 286.5 L361.8 286.4 L363.3 286.4 L364.8 286.3 L366.3 286.2 L367.7 286.1 L369.2 286.0 L370.6 286.0 L372.0 285.9 L373.4 285.8 L374.8 285.7 L376.3 285.6 L377.7 285.5 L379.1 285.4 L380.5 285.3 L381.9 285.2 L383.4 285.1 L384.8 285.0 L386.2 284.9 L387.6 284.7 L389.1 284.6 L390.5 284.5 L391.9 284.4 L393.3 284.2 L394.7 284.1 L396.2 284.0 L397.6 283.8 L399.0 283.7 L400.4 283.5 L401.8 283.4 L403.3 283.2 L404.7 283.1 L406.1 282.9 L407.5 282.7 L409.0 282.6 L410.3 282.4 L411.6 282.2 L413.0 282.1 L414.3 281.9 L415.6 281.7 L417.0 281.5 L418.3 281.3 L419.7 281.2 L421.0 281.0 L422.3 280.8 L423.7 280.6 L425.0 280.3 L426.3 280.1 L427.7 279.9 L429.0 279.7 L430.4 279.5 L431.7 279.2 L433.0 279.0 L434.4 278.8 L435.7 278.5 L437.1 278.3 L438.4 278.0 L439.7 277.8 L441.1 277.5 L442.3 277.3 L443.6 277.0 L444.8 276.8 L446.1 276.5 L447.3 276.2 L448.6 276.0 L449.8 275.7 L451.1 275.4 L452.4 275.1 L453.6 274.8 L454.9 274.6 L456.1 274.3 L457.4 274.0 L458.6 273.6 L459.9 273.3 L461.1 273.0 L462.4 272.7 L463.6 272.4 L464.9 272.0 L466.1 271.7 L467.4 271.4 L468.7 271.0 L469.9 270.7 L471.1 270.3 L472.3 270.0 L473.4 269.7 L474.6 269.3 L475.8 269.0 L476.9 268.6 L478.1 268.3 L479.3 267.9 L480.4 267.5 L481.6 267.2 L482.8 266.8 L484.0 266.4 L485.1 266.0 L486.3 265.6 L487.5 265.2 L488.6 264.8 L489.8 264.4 L491.0 264.0 L492.2 263.6 L493.3 263.2 L494.5 262.7 L495.7 262.3 L496.8 261.9 L498.0 261.4 L499.1 261.0 L500.2 260.6 L501.3 260.2 L502.4 259.8 L503.4 259.3 L504.5 258.9 L505.6 258.4 L506.7 258.0 L507.8 257.5 L508.9 257.1 L510.0 256.6 L511.1 256.2 L512.1 255.7 L513.2 255.2 L514.3 254.7 L515.4 254.3 L516.5 253.8 L517.6 253.3 L518.7 252.8 L519.7 252.3 L520.8 251.8 L521.9 251.2 L523.0 250.7 L524.1 250.2 L525.2 249.7 L526.3 249.1 L527.3 248.6 L528.3 248.1 L529.3 247.6 L530.3 247.1 L531.3 246.6 L532.3 246.1 L533.3 245.6 L534.3 245.0 L535.3 244.5 L536.3 244.0 L537.3 243.4 L538.3 242.9 L539.3 242.3 L540.3 241.8 L541.3 241.2 L542.3 240.6 L543.3 240.1 L544.3 239.5 L545.3 238.9 L546.3 238.3 L547.3 237.7 L548.3 237.1 L549.3 236.5 L550.3 235.9 L551.4 235.3 L552.4 234.7 L553.4 234.1 L554.4 233.5 L555.4 232.9 L556.4 232.2 L557.3 231.6 L558.2 231.0 L559.1 230.5 L560.0 229.9 L561.0 229.3 L561.9 228.7 L562.8 228.0 L563.7 227.4 L564.6 226.8 L565.6 226.2 L566.5 225.6 L567.4 224.9 L568.3 224.3 L569.2 223.7 L570.2 223.0 L571.1 222.4 L572.0 221.7 L572.9 221.1 L573.8 220.4 L574.8 219.7 L575.7 219.1 L576.6 218.4 L577.5 217.7 L578.4 217.0 L579.4 216.3 L580.3 215.6 L581.2 214.9 L582.1 214.2 L583.0 213.5 L584.0 212.8 L584.9 212.1 L585.8 211.4 L586.7 210.7 L587.6 209.9 L588.5 209.3 L589.3 208.6 L590.2 207.9 L591.0 207.2 L591.8 206.5 L592.7 205.9 L593.5 205.2 L594.3 204.5 L595.2 203.8 L596.0 203.1 L596.8 202.4 L597.7 201.6 L598.5 200.9 L599.3 200.2 L600.2 199.5 L601.0 198.8 L601.9 198.0 L602.7 197.3 L603.5 196.6 L604.4 195.8 L605.2 195.1 L606.0 194.3 L606.9 193.6 L607.7 192.8 L608.5 192.0 L609.4 191.3 L610.2 190.5 L611.1 189.7 L611.9 188.9 L612.7 188.2 L613.6 187.4 L614.4 186.6 L615.2 185.8 L616.1 185.0 L616.9 184.2 L617.7 183.4 L618.6 182.5 L619.4 181.7 L620.3 180.9 L621.1 180.1 L621.8 179.3 L622.6 178.6 L623.3 177.8 L624.1 177.1 L624.9 176.3 L625.6 175.5 L626.4 174.8 L627.1 174.0 L627.9 173.2 L628.6 172.4 L629.4 171.6 L630.1 170.9 L630.9 170.1 L631.6 169.3 L632.4 168.5 L633.1 167.7 L633.9 166.9 L634.6 166.1 L635.4 165.2 L636.1 164.4 L636.9 163.6 L637.6 162.8 L638.4 162.0 L639.1 161.1 L639.9 160.3 L640.7 159.5 L641.4 158.6 L642.2 157.8 L642.9 156.9 L643.7 156.1 L644.4 155.2 L645.2 154.3 L645.9 153.5 L646.7 152.6 L647.4 151.7 L648.2 150.9 L648.9 150.0 L649.7 149.1 L650.4 148.2 L651.2 147.3 L651.9 146.4 L652.7 145.5 L653.4 144.6 L654.2 143.7 L655.0 142.8 L655.7 141.9 L656.5 141.0 L657.2 140.0 L658.0 139.1 L658.7 138.2 L659.5 137.3 L660.1 136.4 L660.8 135.6 L661.5 134.7 L662.1 133.9 L662.8 133.1 L663.5 132.2 L664.2 131.4 L664.8 130.5 L665.5 129.6 L666.2 128.8 L666.8 127.9 L667.5 127.0 L668.2 126.2 L668.8 125.3 L669.5 124.4 L670.2 123.5 L670.8 122.7 L671.5 121.8 L672.2 120.9 L672.8 120.0 L673.5 119.1 L674.2 118.2 L674.9 117.3 L675.5 116.4 L676.2 115.5 L676.9 114.6 L677.5 113.6 L678.2 112.7 L678.9 111.8 L679.5 110.9 L680.2 109.9 L680.9 109.0 L681.5 108.1 L682.2 107.1 L682.9 106.2 L683.5 105.2 L684.2 104.3 L684.9 103.3 L685.6 102.4 L686.2 101.4 L686.9 100.5 L687.6 99.5 L688.2 98.5 L688.9 97.6 L689.6 96.6 L690.2 95.6 L690.9 94.6 L691.6 93.6 L692.2 92.6 L692.9 91.7 L693.6 90.7 L694.3 89.7 L694.9 88.7 L695.6 87.6 L696.3 86.6 L696.9 85.6 L697.6 84.6 L698.3 83.6 L698.9 82.6 L699.6 81.5 L700.3 80.5 L700.9 79.5 L701.6 78.4 L702.3 77.4 L702.9 76.4 L703.5 75.4 L704.1 74.5 L704.7 73.6 L705.3 72.7 L705.9 71.7 L706.5 70.8 L707.0 69.9 L707.6 68.9 L708.2 68.0 L708.8 67.1 L709.4 66.1 L710.0 65.2 L710.6 64.2 L711.1 63.3 L711.7 62.3 L712.3 61.4 L712.9 60.4 L713.5 59.4 L714.1 58.5 L714.7 57.5 L715.2 56.5 L715.8 55.6 L716.4 54.6 L717.0 53.6 L717.6 52.6 L718.2 51.6 L718.5 51.1" stroke="#ff00ff"/>
<path d="M120.5 467.7 L121.3 466.9 L122.1 466.0 L122.8 465.1 L123.6 464.3 L124.3 463.5 L125.1 462.6 L125.8 461.8 L126.6 461.0 L127.3 460.2 L128.1 459.3 L128.8 458.5 L129.6 457.7 L130.3 457.0 L131.1 456.2 L131.9 455.4 L132.6 454.6 L133.4 453.9 L134.1 453.1 L134.9 452.3 L135.6 451.6 L136.5 450.8 L137.3 449.9 L138.1 449.1 L139.0 448.3 L139.8 447.5 L140.6 446.7 L141.5 446.0 L142.3 445.2 L143.1 444.4 L144.0 443.6 L144.8 442.9 L145.7 442.1 L146.5 441.4 L147.3 440.6 L148.2 439.9 L149.0 439.2 L149.8 438.4 L150.7 437.7 L151.5 437.0 L152.3 436.3 L153.2 435.6 L154.0 434.9 L154.8 434.2 L155.7 433.5 L156.5 432.8 L157.4 432.2 L158.2 431.5 L159.0 430.8 L159.9 430.1 L160.9 429.4 L161.8 428.7 L162.7 428.0 L163.6 427.3 L164.5 426.6 L165.5 425.9 L166.4 425.2 L167.3 424.5 L168.2 423.8 L169.1 423.2 L170.1 422.5 L171.0 421.8 L171.9 421.2 L172.8 420.5 L173.7 419.9 L174.7 419.3 L175.6 418.6 L176.5 418.0 L177.4 417.4 L178.3 416.8 L179.3 416.2 L180.2 415.6 L181.1 415.0 L182.0 414.4 L182.9 413.8 L183.9 413.2 L184.8 412.6 L185.8 412.0 L186.8 411.4 L187.8 410.7 L188.8 410.1 L189.8 409.5 L190.8 408.9 L191.8 408.3 L192.8 407.7 L193.8 407.2 L194.8 406.6 L195.8 406.0 L196.8 405.4 L197.8 404.9 L198.8 404.3 L199.8 403.8 L200.8 403.2 L201.8 402.7 L202.8 402.1 L203.8 401.6 L204.9 401.1 L205.9 400.5 L206.9 400.0 L207.9 399.5 L208.9 399.0 L209.9 398.5 L210.9 398.0 L212.0 397.5 L213.0 396.9 L214.1 396.4 L215.2 395.9 L216.3 395.4 L217.4 394.9 L218.5 394.3 L219.6 393.8 L220.7 393.4 L221.7 392.9 L222.8 392.4 L223.9 391.9 L225.0 391.4 L226.1 391.0 L227.2 390.5 L228.3 390.0 L229.4 389.6 L230.4 389.1 L231.5 388.7 L232.6 388.2 L233.7 387.8 L234.8 387.4 L235.9 386.9 L237.0 386.5 L238.0 386.1 L239.1 385.7 L240.3 385.2 L241.5 384.8 L242.6 384.4 L243.8 383.9 L245.0 383.5 L246.2 383.1 L247.3 382.7 L248.5 382.3 L249.7 381.9 L250.8 381.5 L252.0 381.1 L253.2 380.7 L254.4 380.3 L255.5 379.9 L256.7 379.6 L257.9 379.2 L259.0 378.8 L260.2 378.5 L261.4 378.1 L262.5 377.8 L263.7 377.4 L264.9 377.1 L266.1 376.7 L267.2 376.4 L268.4 376.1 L269.7 375.7 L270.9 375.4 L272.2 375.0 L273.4 374.7 L274.7 374.4 L275.9 374.0 L277.2 373.7 L278.4 373.4 L279.7 373.1 L280.9 372.8 L282.2 372.5 L283.4 372.2 L284.7 371.9 L286.0 371.6 L287.2 371.3 L288.5 371.0 L289.7 370.7 L291.0 370.5 L292.2 370.2 L293.5 369.9 L294.7 369.6 L296.0 369.4 L297.2 369.1 L298.5 368.9 L299.8 368.6 L301.0 368.4 L302.3 368.1 L303.7 367.9 L305.0 367.6 L306.4 367.4 L307.7 367.1 L309.0 366.9 L310.4 366.7 L311.7 366.4 L313.0 366.2 L314.4 366.0 L315.7 365.8 L317.1 365.5 L318.4 365.3 L319.7 365.1 L321.1 364.9 L322.4 364.7 L323.8 364.5 L325.1 364.3 L326.4 364.1 L327.8 363.9 L329.1 363.7 L330.4 363.6 L331.8 363.4 L333.1 363.2 L334.5 363.0 L335.8 362.9 L337.1 362.7 L338.5 362.5 L339.8 362.4 L341.2 362.2 L342.6 362.0 L344.1 361.8 L345.5 361.7 L346.9 361.5 L348.3 361.4 L349.8 361.2 L351.2 361.1 L352.6 360.9 L354.0 360.8 L355.4 360.6 L356.9 360.5 L358.3 360.3 L359.7 360.2 L361.1 360.1 L362.5 359.9 L364.0 359.8 L365.4 359.7 L366.8 359.5 L368.2 359.4 L369.7 359.3 L371.1 359.2 L372.5 359.0 L373.9 358.9 L375.3 358.8 L376.8 358.7 L378.2 358.6 L379.6 358.5 L381.0 358.4 L382.5 358.2 L383.9 358.1 L385.3 358.0 L386.7 357.9 L388.1 357.8 L389.6 357.7 L391.0 357.6 L392.4 357.5 L393.8 357.4 L395.2 357.3 L396.7 357.2 L398.1 357.1 L399.5 357.0 L400.9 356.9 L402.4 356.8 L403.8 356.7 L405.2 356.6 L406.6 356.5 L408.0 356.4 L409.5 356.3 L410.9 356.2 L412.3 356.1 L413.7 356.0 L415.1 355.9 L416.6 355.8 L418.0 355.7 L419.4 355.7 L420.8 355.6 L422.3 355.5 L423.7 355.4 L425.1 355.3 L426.5 355.2 L427.9 355.1 L429.4 355.0 L430.8 354.9 L432.2 354.8 L433.6 354.7 L435.0 354.6 L436.5 354.5 L437.9 354.4 L439.3 354.3 L440.7 354.1 L442.2 354.0 L443.6 353.9 L445.0 353.8 L446.4 353.7 L447.8 353.6 L449.3 353.5 L450.7 353.4 L452.1 353.3 L453.5 353.1 L454.9 353.0 L456.4 352.9 L457.8 352.8 L459.2 352.6 L460.6 352.5 L462.1 352.4 L463.5 352.3 L464.9 352.1 L466.3 352.0 L467.7 351.9 L469.2 351.7 L470.6 351.6 L472.0 351.4 L473.4 351.3 L474.8 351.1 L476.3 351.0 L477.7 350.8 L479.1 350.7 L480.5 350.5 L482.0 350.4 L483.4 350.2 L484.8 350.0 L486.2 349.9 L487.6 349.7 L489.0 349.5 L490.3 349.4 L491.7 349.2 L493.0 349.0 L494.3 348.8 L495.7 348.7 L497.0 348.5 L498.3 348.3 L499.7 348.1 L501.0 347.9 L502.4 347.7 L503.7 347.5 L505.0 347.3 L506.4 347.1 L507.7 346.9 L509.0 346.7 L510.4 346.5 L511.7 346.3 L513.1 346.1 L514.4 345.8 L515.7 345.6 L517.1 345.4 L518.4 345.2 L519.7 344.9 L521.1 344.7 L522.4 344.4 L523.8 344.2 L525.1 343.9 L526.4 343.7 L527.8 343.4 L529.0 343.2 L530.3 342.9 L531.5 342.7 L532.8 342.4 L534.0 342.1 L535.3 341.9 L536.6 341.6 L537.8 341.3 L539.1 341.0 L540.3 340.8 L541.6 340.5 L542.8 340.2 L544.1 339.9 L545.3 339.6 L546.6 339.3 L547.8 339.0 L549.1 338.7 L550.3 338.4 L551.6 338.0 L552.9 337.7 L554.1 337.4 L555.4 337.1 L556.6 336.7 L557.9 336.4 L559.1 336.0 L560.4 335.7 L561.6 335.4 L562.7 335.0 L563.9 334.7 L565.1 334.4 L566.2 334.0 L567.4 333.7 L568.6 333.3 L569.7 332.9 L570.9 332.6 L572.1 332.2 L573.3 331.8 L574.4 331.5 L575.6 331.1 L576.8 330.7 L577.9 330.3 L579.1 329.9 L580.3 329.5 L581.5 329.1 L582.6 328.7 L583.8 328.3 L585.0 327.9 L586.1 327.5 L587.3 327.0 L588.5 326.6 L589.6 326.2 L590.8 325.7 L592.0 325.3 L593.1 324.9 L594.2 324.5 L595.3 324.0 L596.3 323.6 L597.4 323.2 L598.5 322.7 L599.6 322.3 L600.7 321.8 L601.8 321.4 L602.9 320.9 L603.9 320.5 L605.0 320.0 L606.1 319.5 L607.2 319.1 L608.3 318.6 L609.4 318.1 L610.5 317.6 L611.6 317.1 L612.6 316.6 L613.7 316.1 L614.8 315.6 L615.9 315.1 L617.0 314.6 L618.1 314.1 L619.2 313.6 L620.3 313.0 L621.3 312.5 L622.4 312.0 L623.4 311.5 L624.4 311.0 L625.4 310.5 L626.4 310.0 L627.4 309.4 L628.4 308.9 L629.4 308.4 L630.5 307.9 L631.5 307.3 L632.5 306.8 L633.5 306.2 L634.5 305.7 L635.5 305.1 L636.5 304.6 L637.5 304.0 L638.5 303.5 L639.5 302.9 L640.5 302.3 L641.5 301.7 L642.5 301.2 L643.5 300.6 L644.5 300.0 L645.5 299.4 L646.5 298.8 L647.5 298.2 L648.5 297.6 L649.5 297.0 L650.5 296.3 L651.5 295.7 L652.5 295.1 L653.4 294.5 L654.4 293.9 L655.3 293.3 L656.2 292.7 L657.1 292.1 L658.0 291.5 L659.0 290.9 L659.9 290.3 L660.8 289.7 L661.7 289.1 L662.6 288.5 L663.6 287.8 L664.5 287.2 L665.4 286.6 L666.3 285.9 L667.2 285.3 L668.2 284.7 L669.1 284.0 L670.0 283.4 L670.9 282.7 L671.8 282.0 L672.8 281.4 L673.7 280.7 L674.6 280.0 L675.5 279.3 L676.4 278.7 L677.4 278.0 L678.3 277.3 L679.2 276.6 L680.1 275.9 L681.0 275.2 L682.0 274.5 L682.9 273.7 L683.8 273.0 L684.7 272.3 L685.6 271.6 L686.5 270.9 L687.3 270.2 L688.1 269.6 L689.0 268.9 L689.8 268.2 L690.7 267.5 L691.5 266.8 L692.3 266.1 L693.2 265.4 L694.0 264.7 L694.8 264.0 L695.7 263.3 L696.5 262.6 L697.3 261.9 L698.2 261.2 L699.0 260.4 L699.9 259.7 L700.7 259.0 L701.5 258.3 L702.4 257.5 L703.2 256.8 L704.0 256.0 L704.9 255.3 L705.7 254.5 L706.5 253.8 L707.4 253.0 L708.2 252.2 L709.1 251.5 L709.9 250.7 L710.7 249.9 L711.6 249.1 L712.4 248.3 L713.2 247.5 L714.1 246.7 L714.9 245.9 L715.7 245.1 L716.6 244.3 L717.4 243.5 L718.2 242.7 L718.5 242.5" stroke="#00ff00"/>
<path d="M45.5 403.5 L46.3 402.7 L47.1 402.0 L47.9 401.3 L48.7 400.6 L49.5 399.9 L50.3 399.1 L51.1 398.4 L52.0 397.7 L52.8 397.0 L53.6 396.4 L54.5 395.5 L55.5 394.7 L56.4 394.0 L57.3 393.2 L58.3 392.4 L59.2 391.6 L60.2 390.8 L61.1 390.1 L62.1 389.3 L63.0 388.5 L63.9 387.8 L64.9 387.0 L65.8 386.3 L66.8 385.5 L67.7 384.8 L68.6 384.1 L69.6 383.3 L70.5 382.6 L71.5 381.9 L72.4 381.2 L73.4 380.5 L74.3 379.8 L75.2 379.1 L76.2 378.4 L77.1 377.7 L78.1 377.0 L79.0 376.3 L80.0 375.7 L80.9 375.0 L81.8 374.3 L82.8 373.7 L83.7 373.0 L84.7 372.4 L85.6 371.7 L86.6 371.1 L87.5 370.4 L88.4 369.8 L89.4 369.2 L90.3 368.5 L91.3 367.9 L92.2 367.3 L93.2 366.7 L94.1 366.1 L95.0 365.5 L96.0 364.9 L96.9 364.3 L97.9 363.7 L98.8 363.1 L99.7 362.5 L100.7 361.9 L101.6 361.4 L102.6 360.8 L103.5 360.2 L104.5 359.7 L105.5 359.0 L106.6 358.4 L107.7 357.8 L108.8 357.2 L109.8 356.6 L110.9 355.9 L112.0 355.3 L113.1 354.7 L114.2 354.1 L115.2 353.6 L116.3 353.0 L117.4 352.4 L118.5 351.8 L119.5 351.3 L120.6 350.7 L121.7 350.1 L122.8 349.6 L123.8 349.0 L124.9 348.5 L126.0 348.0 L127.1 347.4 L128.2 346.9 L129.2 346.4 L130.3 345.8 L131.4 345.3 L132.5 344.8 L133.5 344.3 L134.6 343.8 L135.7 343.3 L136.8 342.8 L137.8 342.4 L138.9 341.9 L140.0 341.4 L141.1 340.9 L142.2 340.5 L143.2 340.0 L144.3 339.5 L145.4 339.1 L146.5 338.6 L147.5 338.2 L148.6 337.8 L149.7 337.3 L150.8 336.9 L151.8 336.5 L153.1 336.0 L154.3 335.5 L155.5 335.1 L156.7 334.6 L157.9 334.2 L159.1 333.7 L160.3 333.3 L161.5 332.8 L162.8 332.4 L164.0 332.0 L165.2 331.6 L166.4 331.1 L167.6 330.7 L168.8 330.3 L170.0 329.9 L171.2 329.5 L172.4 329.1 L173.7 328.7 L174.9 328.4 L176.1 328.0 L177.3 327.6 L178.5 327.3 L179.7 326.9 L180.9 326.5 L182.1 326.2 L183.4 325.8 L184.6 325.5 L185.8 325.2 L187.0 324.8 L188.2 324.5 L189.4 324.2 L190.6 323.8 L191.8 323.5 L193.0 323.2 L194.3 322.9 L195.5 322.6 L196.7 322.3 L197.9 322.0 L199.1 321.7 L200.5 321.4 L201.8 321.1 L203.1 320.8 L204.5 320.5 L205.8 320.2 L207.2 319.9 L208.5 319.6 L209.9 319.3 L211.2 319.0 L212.6 318.8 L213.9 318.5 L215.3 318.2 L216.6 318.0 L218.0 317.7 L219.3 317.5 L220.6 317.2 L222.0 317.0 L223.3 316.7 L224.7 316.5 L226.0 316.3 L227.4 316.1 L228.7 315.8 L230.1 315.6 L231.4 315.4 L232.8 315.2 L234.1 315.0 L235.5 314.8 L236.8 314.6 L238.1 314.4 L239.5 314.2 L240.8 314.0 L242.2 313.9 L243.5 313.7 L244.9 313.5 L246.2 313.3 L247.6 313.2 L248.9 313.0 L250.3 312.8 L251.6 312.7 L253.0 312.5 L254.4 312.4 L255.9 312.2 L257.4 312.0 L258.9 311.9 L260.4 311.7 L261.8 311.6 L263.3 311.4 L264.8 311.3 L266.3 311.2 L267.8 311.0 L269.2 310.9 L270.7 310.8 L272.2 310.6 L273.7 310.5 L275.2 310.4 L276.7 310.3 L278.1 310.2 L279.6 310.1 L281.1 310.0 L282.6 309.9 L284.1 309.8 L285.5 309.7 L287.0 309.6 L288.5 309.5 L290.0 309.4 L291.5 309.3 L292.9 309.2 L294.4 309.1 L295.9 309.0 L297.4 309.0 L298.9 308.9 L300.3 308.8 L301.8 308.7 L303.3 308.7 L304.8 308.6 L306.3 308.5 L307.7 308.5 L309.2 308.4 L310.7 308.3 L312.2 308.3 L313.7 308.2 L315.2 308.1 L316.6 308.1 L318.1 308.0 L319.6 308.0 L321.1 307.9 L322.6 307.9 L324.0 307.8 L325.5 307.8 L327.0 307.7 L328.5 307.7 L330.0 307.6 L331.4 307.6 L332.9 307.5 L334.4 307.5 L335.9 307.4 L337.4 307.4 L338.8 307.3 L340.3 307.3 L341.8 307.2 L343.3 307.2 L344.8 307.1 L346.3 307.1 L347.7 307.0 L349.2 307.0 L350.7 306.9 L352.2 306.9 L353.7 306.9 L355.1 306.8 L356.6 306.8 L358.1 306.7 L359.6 306.7 L361.1 306.6 L362.5 306.6 L364.0 306.5 L365.5 306.5 L367.0 306.4 L368.5 306.4 L369.9 306.3 L371.4 306.2 L372.9 306.2 L374.4 306.1 L375.9 306.1 L377.4 306.0 L378.8 305.9 L380.3 305.9 L381.8 305.8 L383.3 305.7 L384.8 305.7 L386.2 305.6 L387.7 305.5 L389.2 305.5 L390.7 305.4 L392.2 305.3 L393.6 305.2 L395.1 305.1 L396.6 305.1 L398.1 305.0 L399.6 304.9 L401.0 304.8 L402.5 304.7 L404.0 304.6 L405.5 304.5 L407.0 304.4 L408.5 304.3 L409.9 304.2 L411.4 304.1 L412.9 304.0 L414.4 303.9 L415.9 303.7 L417.3 303.6 L418.8 303.5 L420.3 303.4 L421.8 303.2 L423.3 303.1 L424.7 303.0 L426.2 302.8 L427.7 302.7 L429.2 302.5 L430.7 302.4 L432.1 302.2 L433.6 302.1 L435.1 301.9 L436.6 301.7 L437.9 301.6 L439.3 301.4 L440.6 301.3 L442.0 301.1 L443.3 300.9 L444.7 300.8 L446.0 300.6 L447.4 300.4 L448.7 300.2 L450.1 300.1 L451.4 299.9 L452.7 299.7 L454.1 299.5 L455.4 299.3 L456.8 299.1 L458.1 298.9 L459.5 298.6 L460.8 298.4 L462.2 298.2 L463.5 298.0 L464.9 297.8 L466.2 297.5 L467.6 297.3 L468.9 297.0 L470.2 296.8 L471.6 296.5 L472.9 296.3 L474.3 296.0 L475.6 295.8 L477.0 295.5 L478.3 295.2 L479.7 294.9 L481.0 294.7 L482.4 294.4 L483.7 294.1 L485.1 293.8 L486.4 293.5 L487.7 293.2 L489.1 292.9 L490.4 292.5 L491.7 292.3 L492.9 292.0 L494.1 291.7 L495.3 291.4 L496.5 291.1 L497.7 290.7 L498.9 290.4 L500.1 290.1 L501.3 289.8 L502.6 289.5 L503.8 289.1 L505.0 288.8 L506.2 288.4 L507.4 288.1 L508.6 287.7 L509.8 287.4 L511.0 287.0 L512.2 286.7 L513.5 286.3 L514.7 285.9 L515.9 285.5 L517.1 285.1 L518.3 284.7 L519.5 284.4 L520.7 284.0 L521.9 283.5 L523.2 283.1 L524.4 282.7 L525.6 282.3 L526.8 281.9 L528.0 281.4 L529.2 281.0 L530.4 280.6 L531.6 280.1 L532.8 279.7 L534.1 279.2 L535.3 278.7 L536.5 278.3 L537.7 277.8 L538.8 277.4 L539.8 276.9 L540.9 276.5 L542.0 276.1 L543.1 275.6 L544.2 275.2 L545.2 274.7 L546.3 274.3 L547.4 273.8 L548.5 273.3 L549.5 272.9 L550.6 272.4 L551.7 271.9 L552.8 271.4 L553.8 270.9 L554.9 270.4 L556.0 269.9 L557.1 269.4 L558.2 268.9 L559.2 268.4 L560.3 267.9 L561.4 267.4 L562.5 266.9 L563.5 266.3 L564.6 265.8 L565.7 265.2 L566.8 264.7 L567.9 264.1 L568.9 263.6 L570.0 263.0 L571.1 262.5 L572.2 261.9 L573.2 261.3 L574.3 260.7 L575.4 260.1 L576.5 259.5 L577.5 258.9 L578.6 258.3 L579.7 257.7 L580.8 257.1 L581.9 256.5 L582.9 255.9 L584.0 255.2 L585.1 254.6 L586.0 254.0 L587.0 253.5 L587.9 252.9 L588.9 252.3 L589.8 251.7 L590.7 251.2 L591.7 250.6 L592.6 250.0 L593.6 249.4 L594.5 248.8 L595.4 248.2 L596.4 247.6 L597.3 247.0 L598.3 246.4 L599.2 245.7 L600.2 245.1 L601.1 244.5 L602.0 243.8 L603.0 243.2 L603.9 242.6 L604.9 241.9 L605.8 241.3 L606.8 240.6 L607.7 239.9 L608.6 239.3 L609.6 238.6 L610.5 237.9 L611.5 237.3 L612.4 236.6 L613.4 235.9 L614.3 235.2 L615.2 234.5 L616.2 233.8 L617.1 233.1 L618.1 232.4 L619.0 231.7 L620.0 230.9 L620.9 230.2 L621.8 229.5 L622.8 228.7 L623.7 228.0 L624.7 227.2 L625.6 226.5 L626.5 225.7 L627.5 225.0 L628.4 224.2 L629.4 223.4 L630.3 222.7 L631.3 221.9 L632.2 221.1 L633.1 220.3 L634.1 219.5 L635.0 218.7 L636.0 217.9 L636.8 217.2 L637.6 216.5 L638.4 215.8 L639.2 215.1 L640.0 214.4 L640.8 213.7 L641.6 213.0 L642.4 212.3 L643.2 211.5 L644.1 210.8 L644.9 210.1 L645.7 209.4 L646.5 208.6 L647.3 207.9 L648.1 207.1 L648.9 206.4 L649.7 205.6 L650.5 204.9 L651.3 204.1 L652.1 203.3 L652.9 202.6 L653.7 201.8 L654.6 201.0 L655.4 200.2 L656.2 199.4 L657.0 198.7 L657.8 197.9 L658.6 197.1 L659.4 196.3 L660.2 195.5 L661.0 194.6 L661.8 193.8 L662.6 193.0 L663.4 192.2 L664.2 191.4 L665.1 190.5 L665.9 189.7 L666.7 188.9 L667.5 188.0 L668.3 187.2 L669.1 186.3 L669.9 185.5 L670.7 184.6 L671.5 183.8 L672.3 182.9 L673.1 182.0 L673.9 181.1 L674.7 180.3 L675.6 179.4 L676.4 178.5 L677.2 177.6 L678.0 176.7 L678.8 175.8 L679.6 174.9 L680.4 174.0 L681.2 173.1 L682.0 172.2 L682.8 171.2 L683.6 170.3 L684.4 169.4 L685.2 168.5 L686.1 167.5 L686.9 166.6 L687.7 165.6 L688.5 164.7 L689.3 163.7 L690.1 162.8 L690.9 161.8 L691.7 160.8 L692.5 159.9 L693.3 158.9 L694.1 157.9 L694.9 156.9 L695.7 155.9 L696.4 155.1 L697.1 154.3 L697.8 153.4 L698.4 152.6 L699.1 151.7 L699.8 150.9 L700.5 150.0 L701.1 149.2 L701.8 148.3 L702.5 147.5 L703.2 146.6 L703.8 145.8 L704.5 144.9 L705.2 144.0 L705.8 143.1 L706.5 142.3 L707.2 141.4 L707.9 140.5 L708.5 139.6 L709.2 138.7 L709.9 137.8 L710.6 136.9 L711.2 136.0 L711.9 135.1 L712.6 134.2 L713.2 133.3 L713.9 132.4 L714.6 131.5 L715.3 130.6 L715.9 129.7 L716.6 128.7 L717.3 127.8 L718.0 126.9 L718.5 126.1" stroke="#ff8000"/>
</g>
<path d="M45.80 255.45 H731.9 M46.20 43.4 V467.2 M79.91 255.45 V250.30 M113.52 255.45 V250.30 M147.13 255.45 V250.30 M180.74 255.45 V247.30 M214.35 255.45 V250.30 M247.96 255.45 V250.30 M281.57 255.45 V250.30 M315.18 255.45 V247.30 M348.79 255.45 V250.30 M382.40 255.45 V250.30 M416.01 255.45 V250.30 M449.62 255.45 V247.30 M483.23 255.45 V250.30 M516.84 255.45 V250.30 M550.45 255.45 V250.30 M584.06 255.45 V247.30 M617.67 255.45 V250.30 M651.28 255.45 V250.30 M684.89 255.45 V250.30 M718.50 255.45 V247.30 M46.20 466.60 H54.30 M46.20 445.74 H51.00 M46.20 424.58 H51.00 M46.20 403.42 H51.00 M46.20 382.26 H51.00 M46.20 361.45 H54.30 M46.20 339.94 H51.00 M46.20 318.78 H51.00 M46.20 297.62 H51.00 M46.20 276.46 H51.00 M46.20 234.14 H51.00 M46.20 212.98 H51.00 M46.20 191.82 H51.00 M46.20 170.66 H51.00 M46.20 149.50 H54.30 M46.20 128.34 H51.00 M46.20 107.18 H51.00 M46.20 86.02 H51.00 M46.20 64.86 H51.00 M46.20 43.60 H54.30" fill="none" stroke="#000" stroke-width="0.8"/>
<g style="text-rendering:geometricPrecision;will-change:transform">
<text x="180.94" y="283.00" text-anchor="middle">2</text>
<text x="315.38" y="283.00" text-anchor="middle">4</text>
<text x="449.82" y="283.00" text-anchor="middle">6</text>
<text x="584.26" y="283.00" text-anchor="middle">8</text>
<text x="718.50" y="283.00" text-anchor="middle">10</text>
<text x="38.80" y="52.00" text-anchor="end">10</text>
<text x="38.80" y="157.00" text-anchor="end">5</text>
<text x="38.80" y="263.00" text-anchor="end">0</text>
<text x="38.80" y="369.00" text-anchor="end">5</text>
<text transform="translate(25.50 370.30) scale(1.06 1)" text-anchor="end">−</text>
<text x="38.80" y="475.00" text-anchor="end">10</text>
<text transform="translate(14.00 476.30) scale(1.06 1)" text-anchor="end">−</text>
<text transform="translate(19.10 23.00) scale(1.08 1)">Z</text>
<text x="34.90" y="23.00">_</text>
<text x="47.15" y="23.00">(</text>
<text transform="translate(53.95 23.00) scale(0.9 1)" font-style="italic">δ</text>
<text x="65.17" y="23.00">)</text>
<text transform="translate(751.60 263.00) scale(0.88 1)" font-style="italic">δ</text>
</g>
</svg></body></html>
